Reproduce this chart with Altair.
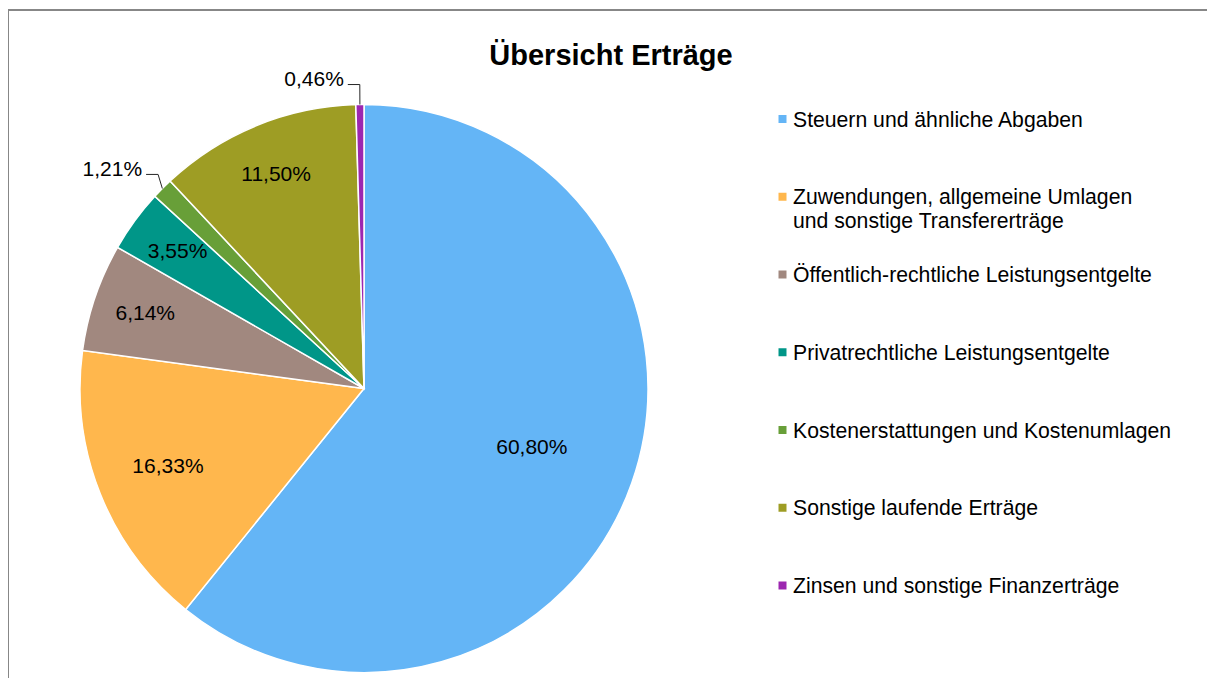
import altair as alt
import pandas as pd

chart_title = "Übersicht Erträge"
categories = [
    "Steuern und ähnliche Abgaben",
    "Zuwendungen, allgemeine Umlagen und sonstige Transfererträge",
    "Öffentlich-rechtliche Leistungsentgelte",
    "Privatrechtliche Leistungsentgelte",
    "Kostenerstattungen und Kostenumlagen",
    "Sonstige laufende Erträge",
    "Zinsen und sonstige Finanzerträge",
]
legend_labels = [
    "Steuern und ähnliche Abgaben",
    "Zuwendungen, allgemeine Umlagen\nund sonstige Transfererträge",
    "Öffentlich-rechtliche Leistungsentgelte",
    "Privatrechtliche Leistungsentgelte",
    "Kostenerstattungen und Kostenumlagen",
    "Sonstige laufende Erträge",
    "Zinsen und sonstige Finanzerträge",
]
shares = [60.80, 16.33, 6.14, 3.55, 1.21, 11.50, 0.46]
colors = ["#64B5F6", "#FFB74D", "#A1887F", "#009688", "#689F38", "#9E9D24", "#9C27B0"]

FONT = "Liberation Sans"
W, H = 1199, 670
CX, CY, R = 356, 380.5, 284

df = pd.DataFrame({
    "category": categories,
    "legend": legend_labels,
    "value": shares,
    "order": list(range(len(categories))),
})

color_scale = alt.Scale(domain=categories, range=colors)

base = (
    alt.Chart(df)
    .transform_joinaggregate(total="sum(value)")
    .transform_window(cum="sum(value)", sort=[alt.SortField("order")], frame=[None, 0])
    .transform_calculate(
        mid="(datum.cum - datum.value / 2) / datum.total * 2 * PI",
        label="replace(format(datum.value, '.2f'), '.', ',') + '%'",
    )
    .transform_calculate(
        x0=f"{CX} + {R} * sin(datum.mid)",
        y0=f"{CY} - {R} * cos(datum.mid)",
    )
    .transform_calculate(
        x1="datum.x0 + 6 * sin(datum.mid)",
        y1="datum.y0 - 20 * cos(datum.mid)",
    )
    .transform_calculate(
        x2="datum.x1 - 12",
        tx="datum.x1 - 16",
        ty="datum.y1 + 1.5",
    )
)

arcs = base.mark_arc(outerRadius=R, stroke="white", strokeWidth=1.5).encode(
    theta=alt.Theta("value:Q", stack=True),
    color=alt.Color("category:N", scale=color_scale, legend=None),
    order=alt.Order("order:Q"),
    x=alt.value(CX),
    y=alt.value(CY),
)


def inner_labels(orders, radius):
    return (
        base.transform_filter(alt.FieldOneOfPredicate(field="order", oneOf=orders))
        .mark_text(font=FONT, fontSize=21, color="black", align="center", baseline="middle")
        .encode(
            theta=alt.Theta("mid:Q", scale=None),
            radius=alt.value(radius),
            text="label:N",
            x=alt.value(CX),
            y=alt.value(CY),
        )
    )


lab_big = inner_labels([0], 178)
lab_mid = inner_labels([1], 211)
lab_small = inner_labels([2, 3, 5], 231)

outer = base.transform_filter(alt.FieldOneOfPredicate(field="order", oneOf=[4, 6]))
lead1 = outer.mark_rule(color="#262626", strokeWidth=1).encode(
    x=alt.X("x0:Q", scale=None), y=alt.Y("y0:Q", scale=None),
    x2="x1:Q", y2="y1:Q",
)
lead2 = outer.mark_rule(color="#262626", strokeWidth=1).encode(
    x=alt.X("x1:Q", scale=None), y=alt.Y("y1:Q", scale=None),
    x2="x2:Q", y2="y1:Q",
)
outer_text = outer.mark_text(font=FONT, fontSize=21, color="black", align="right", baseline="alphabetic").encode(
    x=alt.X("tx:Q", scale=None), y=alt.Y("ty:Q", scale=None), text="label:N",
)

ly = alt.Y("category:N", scale=alt.Scale(domain=categories, range=[111, 577.5], padding=0), axis=None)
leg_sym = alt.Chart(df).mark_square(size=64, opacity=1).encode(
    x=alt.value(774.5),
    y=ly,
    color=alt.Color("category:N", scale=color_scale, legend=None),
)
leg_txt = alt.Chart(df).mark_text(
    font=FONT, fontSize=21.2, color="black", align="left", baseline="top", lineBreak="\n", lineHeight=23.5, dy=-9.5
).encode(x=alt.value(785), y=ly, text="legend:N")

title = alt.Chart(pd.DataFrame({"t": [chart_title]})).mark_text(
    font=FONT, fontSize=29, fontWeight="bold", color="black", align="center", baseline="alphabetic"
).encode(text="t:N", x=alt.value(603), y=alt.value(57))

border_df = pd.DataFrame({"b": [0]})
top_line = alt.Chart(border_df).mark_rule(color="#878787", strokeWidth=2).encode(
    x=alt.value(0), x2=alt.value(W + 10), y=alt.value(2), y2=alt.value(2)
)
left_line = alt.Chart(border_df).mark_rule(color="#878787", strokeWidth=2).encode(
    x=alt.value(0), x2=alt.value(0), y=alt.value(1), y2=alt.value(H + 10)
)

chart = (
    alt.layer(top_line, left_line, arcs, lab_big, lab_mid, lab_small, lead1, lead2, outer_text, leg_sym, leg_txt, title)
    .resolve_scale(x="independent", y="independent", theta="independent", color="shared")
    .properties(width=W, height=H, padding=0, autosize="none", background="white")
    .configure_view(stroke=None)
)

chart.save("out.html", embed_options={"renderer": "svg", "actions": False})
